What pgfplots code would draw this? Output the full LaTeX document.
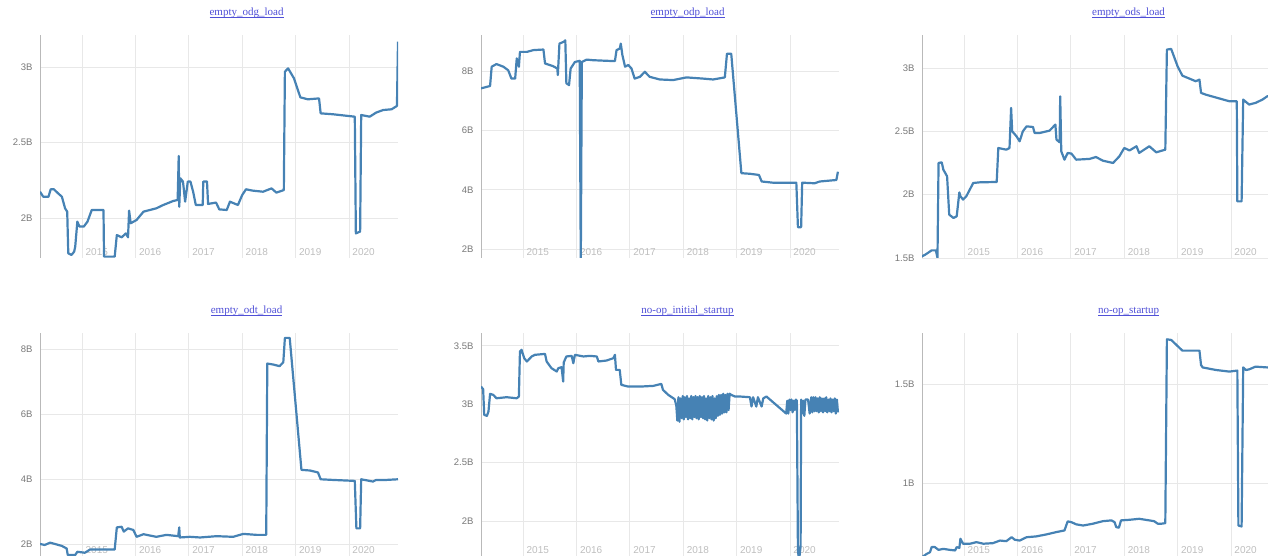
\documentclass[border=0pt]{standalone}
\usepackage{fontspec}
\setmainfont{Liberation Sans}
\newfontfamily\titlefont{Liberation Serif}
\usepackage{pgfplots}
\pgfplotsset{compat=1.18}

\definecolor{steel}{RGB}{70,130,180}
\definecolor{link}{RGB}{80,80,215}
\definecolor{gridc}{RGB}{232,232,232}
\definecolor{ylab}{RGB}{120,120,120}
\definecolor{xlab}{RGB}{190,190,190}
% browser-like underline, close under the baseline
\newcommand\ul[1]{\setbox0\hbox{#1}\rlap{\rule[-1.6pt]{\wd0}{0.7pt}}\box0}

\pgfplotsset{
  panel/.style={
    set layers,
    scale only axis, width=358pt, height=223pt,
    xmin=2014.21, xmax=2020.92,
    axis lines*=left,
    x axis line style={draw=none},
    y axis line style={draw=gray!55, line width=0.8pt, -},
    tick style={draw=none},
    grid=major, major grid style={draw=gridc, line width=0.8pt},
    xtick={2015,2016,2017,2018,2019,2020},
    xticklabels={2015,2016,2017,2018,2019,2020},
    xticklabel style={anchor=base west, yshift=2pt, font=\fontsize{10}{11}\selectfont, text=xlab},
    yticklabel={\pgfmathprintnumber{\tick}B},
    yticklabel style={font=\fontsize{9.5}{10}\selectfont, text=ylab, xshift=-4pt},
    /pgf/number format/assume math mode=true,
    title style={at={(0.577,1)}, anchor=base, yshift=13pt,
      font=\titlefont\fontsize{11}{12}\selectfont, text=link},
  },
  ts/.style={steel, line width=2.2pt, line join=round, mark=none},
}

\begin{document}
\begin{tikzpicture}

% ---------------- row 1 ----------------
\begin{axis}[panel, at={(40pt,301pt)}, anchor=south west,
  ymin=1.735, ymax=3.212, ytick={2,2.5,3},
  title={\ul{empty\_odg\_load}}]
\addplot[ts] coordinates {
(2014.21,2.174) (2014.27,2.141) (2014.37,2.141) (2014.41,2.190) (2014.47,2.190)
(2014.55,2.163) (2014.62,2.141) (2014.68,2.064) (2014.72,2.042) (2014.74,1.766)
(2014.80,1.755) (2014.85,1.777) (2014.87,1.810) (2014.91,1.976) (2014.95,1.943)
(2015.03,1.943) (2015.10,1.976) (2015.18,2.053) (2015.40,2.053) (2015.41,1.744)
(2015.61,1.744) (2015.65,1.887) (2015.74,1.872) (2015.82,1.898) (2015.86,1.872)
(2015.88,2.049) (2015.91,1.965) (2016.02,1.987) (2016.15,2.042) (2016.27,2.053)
(2016.39,2.064) (2016.52,2.086) (2016.71,2.113) (2016.79,2.119) (2016.81,2.411)
(2016.82,2.075) (2016.84,2.263) (2016.89,2.241) (2016.93,2.108) (2016.98,2.241)
(2017.03,2.241) (2017.08,2.174) (2017.13,2.086) (2017.26,2.086) (2017.27,2.241)
(2017.34,2.241) (2017.36,2.093) (2017.51,2.102) (2017.57,2.057) (2017.71,2.053)
(2017.77,2.108) (2017.92,2.086) (2018.00,2.152) (2018.07,2.190) (2018.20,2.181)
(2018.39,2.174) (2018.55,2.196) (2018.64,2.168) (2018.78,2.185) (2018.80,2.969)
(2018.86,2.991) (2018.97,2.925) (2019.09,2.799) (2019.23,2.786) (2019.44,2.792)
(2019.47,2.693) (2019.70,2.687) (2020.11,2.671) (2020.13,1.898) (2020.21,1.910)
(2020.23,2.682) (2020.39,2.671) (2020.51,2.698) (2020.64,2.715) (2020.80,2.720)
(2020.90,2.742) (2020.92,3.168)
};
\end{axis}

\begin{axis}[panel, at={(481pt,301pt)}, anchor=south west,
  ymin=1.70, ymax=9.22, ytick={2,4,6,8},
  title={\ul{empty\_odp\_load}}]
\addplot[ts] coordinates {
(2014.21,7.42) (2014.38,7.50) (2014.41,8.15) (2014.50,8.24) (2014.63,8.15)
(2014.72,8.03) (2014.78,7.75) (2014.85,7.75) (2014.88,8.43) (2014.92,8.15)
(2014.94,8.65) (2015.07,8.65) (2015.19,8.71) (2015.38,8.73) (2015.41,8.26)
(2015.56,8.17) (2015.64,8.09) (2015.65,7.87) (2015.68,8.93) (2015.76,8.99)
(2015.79,9.04) (2015.81,7.59) (2015.86,7.53) (2015.89,8.09) (2015.97,8.31)
(2016.06,8.35) (2016.08,1.50) (2016.10,8.31) (2016.19,8.39) (2016.31,8.37)
(2016.56,8.35) (2016.72,8.34) (2016.75,8.71) (2016.81,8.76) (2016.83,8.93)
(2016.86,8.54) (2016.91,8.15) (2016.97,8.21) (2017.03,8.09) (2017.09,7.75)
(2017.19,7.81) (2017.28,7.98) (2017.37,7.81) (2017.56,7.72) (2017.81,7.70)
(2018.06,7.79) (2018.37,7.75) (2018.56,7.72) (2018.78,7.79) (2018.82,8.59)
(2018.90,8.59) (2019.09,4.56) (2019.25,4.54) (2019.42,4.50) (2019.47,4.28)
(2019.68,4.24) (2019.90,4.24) (2020.12,4.24) (2020.15,2.74) (2020.21,2.74)
(2020.23,4.24) (2020.46,4.22) (2020.56,4.28) (2020.87,4.33) (2020.90,4.61)
};
\end{axis}

\begin{axis}[panel, at={(922pt,301pt)}, anchor=south west,
  ymin=1.5, ymax=3.26, ytick={1.5,2,2.5,3},
  title={\ul{empty\_ods\_load}}]
\addplot[ts] coordinates {
(2014.21,1.513) (2014.27,1.526) (2014.39,1.560) (2014.47,1.560) (2014.50,1.500)
(2014.52,2.250) (2014.58,2.255) (2014.61,2.197) (2014.68,2.145) (2014.72,1.842)
(2014.80,1.816) (2014.86,1.829) (2014.91,2.018) (2014.93,1.987) (2014.98,1.961)
(2015.04,1.987) (2015.17,2.092) (2015.29,2.097) (2015.61,2.100) (2015.64,2.368)
(2015.79,2.355) (2015.85,2.368) (2015.88,2.684) (2015.90,2.500) (2015.98,2.461)
(2016.04,2.421) (2016.10,2.500) (2016.17,2.539) (2016.29,2.534) (2016.32,2.487)
(2016.42,2.487) (2016.60,2.505) (2016.71,2.553) (2016.73,2.434) (2016.79,2.413)
(2016.80,2.776) (2016.82,2.342) (2016.88,2.276) (2016.94,2.329) (2017.01,2.324)
(2017.10,2.276) (2017.35,2.282) (2017.47,2.297) (2017.60,2.268) (2017.79,2.250)
(2017.85,2.276) (2017.91,2.303) (2018.00,2.368) (2018.10,2.349) (2018.23,2.382)
(2018.28,2.329) (2018.47,2.382) (2018.60,2.334) (2018.77,2.355) (2018.80,3.145)
(2018.88,3.150) (2019.00,3.013) (2019.09,2.939) (2019.34,2.895) (2019.41,2.908)
(2019.44,2.803) (2019.53,2.789) (2019.97,2.737) (2020.11,2.737) (2020.12,1.947)
(2020.20,1.947) (2020.23,2.750) (2020.34,2.711) (2020.46,2.724) (2020.59,2.750)
(2020.68,2.776) (2020.92,2.790)
};
\end{axis}

% ---------------- row 2 ----------------
\begin{axis}[panel, at={(40pt,3pt)}, anchor=south west,
  ymin=1.63, ymax=8.49, ytick={2,4,6,8},
  title={\ul{empty\_odt\_load}}]
\addplot[ts] coordinates {
(2014.21,2.00) (2014.30,1.97) (2014.40,2.04) (2014.49,2.00) (2014.62,1.94)
(2014.71,1.86) (2014.73,1.66) (2014.87,1.66) (2014.91,1.76) (2015.05,1.73)
(2015.15,1.83) (2015.33,1.83) (2015.61,1.83) (2015.65,2.51) (2015.74,2.53)
(2015.78,2.38) (2015.86,2.48) (2015.96,2.43) (2016.02,2.22) (2016.15,2.30)
(2016.39,2.22) (2016.58,2.28) (2016.80,2.24) (2016.82,2.51) (2016.83,2.20)
(2017.02,2.22) (2017.21,2.20) (2017.52,2.24) (2017.83,2.22) (2018.02,2.31)
(2018.27,2.28) (2018.45,2.28) (2018.47,7.55) (2018.58,7.52) (2018.70,7.47)
(2018.77,7.59) (2018.80,8.34) (2018.89,8.34) (2019.11,4.28) (2019.27,4.26)
(2019.42,4.20) (2019.47,3.99) (2019.70,3.97) (2020.11,3.94) (2020.14,2.48)
(2020.21,2.48) (2020.23,3.99) (2020.45,3.92) (2020.51,3.97) (2020.70,3.97)
(2020.92,3.99)
};
\end{axis}

\begin{axis}[panel, at={(481pt,3pt)}, anchor=south west,
  ymin=1.70, ymax=3.61, ytick={2,2.5,3,3.5},
  title={\ul{no-op\_initial\_startup}}]
\addplot[ts] coordinates {
(2014.21,3.151) (2014.25,3.129) (2014.27,2.909) (2014.32,2.900) (2014.35,2.937)
(2014.38,3.089) (2014.44,3.080) (2014.50,3.051) (2014.69,3.060) (2014.88,3.051)
(2014.92,3.066) (2014.94,3.451) (2014.97,3.466) (2015.02,3.394) (2015.07,3.366)
(2015.16,3.409) (2015.22,3.423) (2015.41,3.431) (2015.44,3.366) (2015.53,3.309)
(2015.63,3.280) (2015.66,3.309) (2015.72,3.317) (2015.75,3.194) (2015.76,3.357)
(2015.81,3.409) (2015.91,3.414) (2015.94,3.351) (2015.97,3.423) (2016.13,3.409)
(2016.25,3.414) (2016.38,3.409) (2016.41,3.366) (2016.56,3.374) (2016.69,3.394)
(2016.72,3.423) (2016.74,3.294) (2016.81,3.294) (2016.84,3.166) (2016.97,3.151)
(2017.19,3.151) (2017.44,3.157) (2017.59,3.174) (2017.62,3.123) (2017.72,3.080)
(2017.84,3.043) (2017.87,2.990)
(2017.89,2.86) (2017.91,3.06) (2017.93,2.85) (2017.95,3.05) (2017.97,2.88)
(2017.99,3.07) (2018.01,2.87) (2018.03,3.06) (2018.05,2.89) (2018.07,3.07)
(2018.09,2.87) (2018.11,3.05) (2018.13,2.88) (2018.15,3.07) (2018.17,2.87)
(2018.19,3.06) (2018.21,2.89) (2018.23,3.07) (2018.25,2.88) (2018.27,3.06)
(2018.29,2.87) (2018.31,3.07) (2018.33,2.89) (2018.35,3.06) (2018.37,2.88)
(2018.39,3.07) (2018.41,2.87) (2018.43,3.05) (2018.45,2.86) (2018.47,3.07)
(2018.49,2.88) (2018.51,3.06) (2018.53,2.87) (2018.55,3.07) (2018.57,2.86)
(2018.59,3.05) (2018.61,2.88) (2018.63,3.07) (2018.65,2.90) (2018.67,3.08)
(2018.69,2.91) (2018.71,3.08) (2018.73,2.92) (2018.75,3.09) (2018.77,2.93)
(2018.79,3.08) (2018.81,2.93) (2018.83,3.09) (2018.85,2.95) (2018.87,3.09)
(2018.90,3.08) (2018.97,3.066) (2019.06,3.066) (2019.25,3.060) (2019.28,2.980)
(2019.31,3.060) (2019.37,2.980) (2019.40,3.060) (2019.47,2.980) (2019.50,3.050)
(2019.56,3.066) (2019.93,2.920) (2019.95,3.03) (2019.97,2.92) (2019.99,3.04)
(2020.01,2.95) (2020.03,3.04) (2020.05,2.93) (2020.07,3.03) (2020.09,2.95)
(2020.11,3.04) (2020.13,3.03) (2020.15,1.75) (2020.17,1.66) (2020.20,1.78)
(2020.21,3.04) (2020.23,2.92) (2020.25,3.03) (2020.27,2.90) (2020.29,3.04)
(2020.34,3.04) (2020.37,2.92) (2020.40,3.06) (2020.42,2.93) (2020.44,3.06)
(2020.46,2.94) (2020.48,3.06) (2020.50,2.94) (2020.52,3.05) (2020.54,2.93)
(2020.56,3.06) (2020.58,2.94) (2020.60,3.05) (2020.62,2.93) (2020.64,3.05)
(2020.66,2.94) (2020.68,3.06) (2020.70,2.93) (2020.72,3.04) (2020.74,2.94)
(2020.76,3.05) (2020.78,2.93) (2020.80,3.04) (2020.82,2.94) (2020.84,3.05)
(2020.86,2.92) (2020.88,3.04) (2020.90,2.93)
};
\end{axis}

\begin{axis}[panel, at={(922pt,3pt)}, anchor=south west,
  ymin=0.631, ymax=1.758, ytick={1,1.5},
  title={\ul{no-op\_startup}}]
\addplot[ts] coordinates {
(2014.21,0.625) (2014.30,0.642) (2014.36,0.650) (2014.39,0.676) (2014.45,0.676)
(2014.52,0.662) (2014.61,0.667) (2014.73,0.662) (2014.83,0.659) (2014.86,0.676)
(2014.91,0.672) (2014.93,0.718) (2014.98,0.693) (2015.11,0.693) (2015.23,0.701)
(2015.36,0.693) (2015.54,0.696) (2015.67,0.709) (2015.79,0.706) (2015.89,0.726)
(2015.95,0.713) (2016.04,0.709) (2016.17,0.726) (2016.35,0.730) (2016.54,0.740)
(2016.73,0.752) (2016.88,0.760) (2016.94,0.806) (2017.01,0.802) (2017.10,0.791)
(2017.23,0.785) (2017.41,0.794) (2017.60,0.807) (2017.76,0.811) (2017.82,0.802)
(2017.85,0.777) (2017.90,0.774) (2017.94,0.811) (2018.10,0.814) (2018.28,0.819)
(2018.47,0.811) (2018.56,0.807) (2018.63,0.794) (2018.69,0.794) (2018.77,0.797)
(2018.80,1.726) (2018.88,1.723) (2019.09,1.669) (2019.41,1.669) (2019.44,1.596)
(2019.47,1.584) (2019.72,1.571) (2019.97,1.563) (2020.12,1.568) (2020.14,0.785)
(2020.20,0.780) (2020.23,1.584) (2020.28,1.571) (2020.34,1.574) (2020.46,1.588)
(2020.68,1.584) (2020.92,1.590)
};
\end{axis}

\pgfresetboundingbox
\useasboundingbox (0pt,0pt) rectangle (1268pt,559pt);
\end{tikzpicture}
\end{document}
